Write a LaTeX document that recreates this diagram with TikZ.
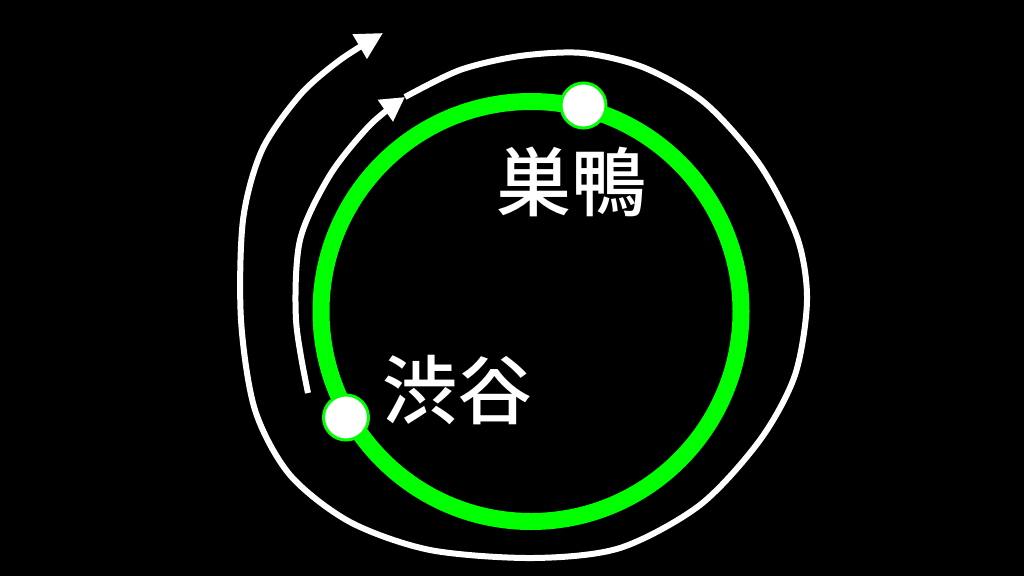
\documentclass[tikz,border=0pt]{standalone}
\usepackage{fontspec}
\newfontfamily\cjk{Noto Sans CJK JP Medium}
\usetikzlibrary{arrows.meta}
\definecolor{linegreen}{RGB}{0,255,0}
\tikzset{
  ring/.style={draw=linegreen, line width=17pt},
  station/.style={circle, draw=linegreen, fill=white, line width=3pt, minimum size=45pt, inner sep=0pt, outer sep=0pt},
  route/.style={draw=white, line width=6pt},
  tipa/.style={-{Triangle[length=24pt,width=25pt]}},
  tipb/.style={-{Triangle[length=27pt,width=27pt]}},
  label/.style={text=white, inner sep=0pt, font=\cjk\fontsize{75}{80}\selectfont}
}
\begin{document}
\begin{tikzpicture}[x=1pt,y=-1pt]
\fill[black] (0,0) rectangle (1024,576);
\useasboundingbox (0,0) rectangle (1024,576);
\draw[ring] (531,311.5) circle[radius=210];
% route (spiral)
\draw[route, tipa] plot[smooth] coordinates {(308,393) (296,320) (300,240) (330,175) (370,125) (405,97)};
\draw[route, tipb] plot[smooth] coordinates {(405,97) (460,70) (520,56) (583,53) (645,68) (705,103) (760,165) (797,237) (807,300) (795,375) (760,440) (700,505) (620,548) (533,558) (430,550) (350,522) (290,475) (255,410) (241,320) (243,220) (262,150) (300,95) (340,60) (383,33)};
\node[station] (sugamo) at (583.5,105.5) {};
\node[station] (shibuya) at (346,417.5) {};
\node[label] (sugamolabel) at (571.5,182) {巣鴨};
\node[label] (shibuyalabel) at (457.5,390) {渋谷};
\end{tikzpicture}
\end{document}
